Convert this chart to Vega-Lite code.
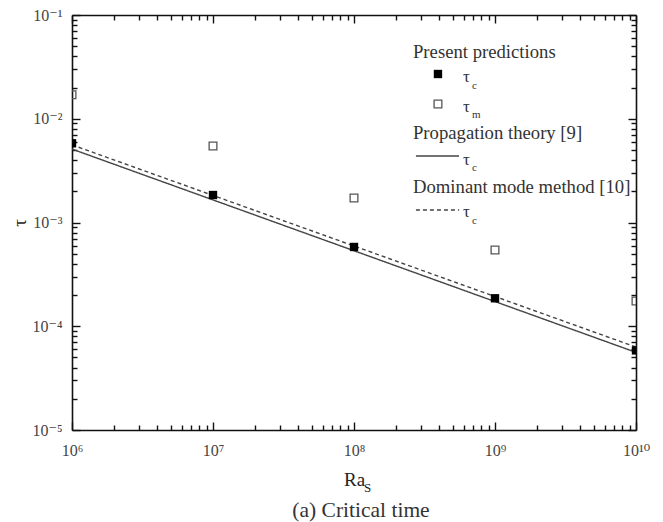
{
  "$schema": "https://vega.github.io/schema/vega-lite/v6.json",
  "width": 564,
  "height": 415,
  "autosize": "none",
  "padding": {"left": 72, "top": 15, "right": 27, "bottom": 92},
  "background": "white",
  "config": {
    "font": "'Liberation Serif', 'DejaVu Serif', serif",
    "view": {"stroke": null},
    "text": {"font": "'Liberation Serif', 'DejaVu Serif', serif"},
    "axis": {
      "grid": false,
      "domainColor": "#111",
      "domainWidth": 1.6,
      "tickColor": "#111",
      "tickWidth": 1.4,
      "labelFont": "'Liberation Serif', 'DejaVu Serif', serif",
      "labelFontSize": 16,
      "labelColor": "#444",
      "titleFont": "'Liberation Serif', 'DejaVu Serif', serif",
      "titleFontWeight": "normal",
      "titleColor": "#222",
      "titleFontSize": 19
    }
  },
  "title": {
    "text": "(a) Critical time",
    "orient": "bottom",
    "anchor": "middle",
    "font": "'Liberation Serif', 'DejaVu Serif', serif",
    "fontSize": 21.5,
    "fontWeight": "normal",
    "color": "#333",
    "offset": 5,
    "dx": 7
  },
  "datasets": {
    "pts": [
      {"Ra": 1e6, "tau": 0.0058, "series": "tau_c"},
      {"Ra": 1e7, "tau": 0.00184, "series": "tau_c"},
      {"Ra": 1e8, "tau": 0.000581, "series": "tau_c"},
      {"Ra": 1e9, "tau": 0.000186, "series": "tau_c"},
      {"Ra": 1e10, "tau": 0.0000585, "series": "tau_c"},
      {"Ra": 1e6, "tau": 0.017, "series": "tau_m"},
      {"Ra": 1e7, "tau": 0.00546, "series": "tau_m"},
      {"Ra": 1e8, "tau": 0.00172, "series": "tau_m"},
      {"Ra": 1e9, "tau": 0.000543, "series": "tau_m"},
      {"Ra": 1e10, "tau": 0.000175, "series": "tau_m"}
    ],
    "lines": [
      {"Ra": 1e6, "tau": 0.0051, "model": "Propagation theory [9]"},
      {"Ra": 1e10, "tau": 0.000056, "model": "Propagation theory [9]"},
      {"Ra": 1e6, "tau": 0.0056, "model": "Dominant mode method [10]"},
      {"Ra": 1e10, "tau": 0.000063, "model": "Dominant mode method [10]"}
    ],
    "legHead": [
      {"Ra": 2.62e8, "tau": 0.044, "label": "Present predictions"},
      {"Ra": 2.62e8, "tau": 0.00729, "label": "Propagation theory [9]"},
      {"Ra": 2.62e8, "tau": 0.0022, "label": "Dominant mode method [10]"}
    ],
    "legTau": [
      {"Ra": 5.93e8, "tau": 0.0252, "label": "τ"},
      {"Ra": 5.93e8, "tau": 0.01298, "label": "τ"},
      {"Ra": 5.93e8, "tau": 0.004, "label": "τ"},
      {"Ra": 5.93e8, "tau": 0.001263, "label": "τ"}
    ],
    "legSub": [
      {"Ra": 6.87e8, "tau": 0.0207, "label": "c"},
      {"Ra": 6.87e8, "tau": 0.01087, "label": "m"},
      {"Ra": 6.87e8, "tau": 0.00335, "label": "c"},
      {"Ra": 6.87e8, "tau": 0.001034, "label": "c"}
    ],
    "legPts": [
      {"Ra": 3.94e8, "tau": 0.027, "series": "tau_c"},
      {"Ra": 3.94e8, "tau": 0.0139, "series": "tau_m"}
    ],
    "legLines": [
      {"Ra": 2.75e8, "Ra2": 5.56e8, "tau": 0.00438, "model": "Propagation theory [9]"},
      {"Ra": 2.75e8, "Ra2": 5.56e8, "tau": 0.00132, "model": "Dominant mode method [10]"}
    ]
  },
  "layer": [
    {
      "data": {"name": "lines"},
      "mark": {"type": "line", "color": "#444", "strokeWidth": 1.4},
      "encoding": {
        "x": {
          "field": "Ra", "type": "quantitative",
          "scale": {"type": "log", "domain": [1e6, 1e10], "nice": false},
          "axis": {
            "orient": "bottom",
            "values": [1e6, 1e7, 1e8, 1e9, 1e10],
            "tickSize": -8,
            "labelPadding": 20,
            "labelFlush": false,
            "labelExpr": "'10' + (round(log(datum.value)/LN10) < 0 ? '⁻' : '') + ['⁰','¹','²','³','⁴','⁵','⁶','⁷','⁸','⁹','¹⁰'][abs(round(log(datum.value)/LN10))]",
            "title": "Ra",
            "titlePadding": 12
          }
        },
        "y": {
          "field": "tau", "type": "quantitative",
          "scale": {"type": "log", "domain": [1e-5, 1e-1], "nice": false},
          "axis": {
            "orient": "left",
            "values": [1e-5, 1e-4, 1e-3, 1e-2, 1e-1],
            "tickSize": -8,
            "labelPadding": 18,
            "labelFlush": false,
            "labelExpr": "'10' + (round(log(datum.value)/LN10) < 0 ? '⁻' : '') + ['⁰','¹','²','³','⁴','⁵','⁶','⁷','⁸','⁹','¹⁰'][abs(round(log(datum.value)/LN10))]",
            "title": "τ",
            "titlePadding": 2
          }
        },
        "detail": {"field": "model"},
        "strokeDash": {
          "field": "model", "type": "nominal",
          "scale": {"domain": ["Propagation theory [9]", "Dominant mode method [10]"], "range": [[1, 0], [4, 3]]},
          "legend": null
        }
      }
    },
    {
      "data": {"name": "pts"},
      "transform": [{"filter": "datum.series == 'tau_c'"}],
      "mark": {"type": "square", "color": "black", "size": 70, "opacity": 1, "clip": true},
      "encoding": {
        "x": {
          "field": "Ra", "type": "quantitative",
          "scale": {"type": "log", "domain": [1e6, 1e10], "nice": false},
          "axis": {
            "orient": "bottom",
            "values": [2e6,3e6,4e6,5e6,6e6,7e6,8e6,9e6,2e7,3e7,4e7,5e7,6e7,7e7,8e7,9e7,2e8,3e8,4e8,5e8,6e8,7e8,8e8,9e8,2e9,3e9,4e9,5e9,6e9,7e9,8e9,9e9],
            "tickSize": -5,
            "labels": false,
            "domain": false,
            "title": null
          }
        },
        "y": {
          "field": "tau", "type": "quantitative",
          "scale": {"type": "log", "domain": [1e-5, 1e-1], "nice": false},
          "axis": {
            "orient": "left",
            "values": [2e-5,3e-5,4e-5,5e-5,6e-5,7e-5,8e-5,9e-5,2e-4,3e-4,4e-4,5e-4,6e-4,7e-4,8e-4,9e-4,2e-3,3e-3,4e-3,5e-3,6e-3,7e-3,8e-3,9e-3,2e-2,3e-2,4e-2,5e-2,6e-2,7e-2,8e-2,9e-2],
            "tickSize": -5,
            "labels": false,
            "domain": false,
            "title": null
          }
        }
      }
    },
    {
      "data": {"name": "pts"},
      "transform": [{"filter": "datum.series == 'tau_m'"}],
      "mark": {"type": "point", "shape": "square", "filled": false, "stroke": "#555", "strokeWidth": 1.3, "size": 60, "opacity": 1, "clip": true},
      "encoding": {
        "x": {
          "field": "Ra", "type": "quantitative",
          "scale": {"type": "log", "domain": [1e6, 1e10], "nice": false},
          "axis": {
            "orient": "top",
            "values": [1e6, 1e7, 1e8, 1e9, 1e10],
            "tickSize": -8,
            "labels": false,
            "title": null
          }
        },
        "y": {
          "field": "tau", "type": "quantitative",
          "scale": {"type": "log", "domain": [1e-5, 1e-1], "nice": false},
          "axis": {
            "orient": "right",
            "values": [1e-5, 1e-4, 1e-3, 1e-2, 1e-1],
            "tickSize": -8,
            "labels": false,
            "title": null
          }
        }
      }
    },
    {
      "data": {"name": "legHead"},
      "mark": {"type": "text", "align": "left", "baseline": "middle", "fontSize": 18.7, "color": "#333"},
      "encoding": {
        "x": {
          "field": "Ra", "type": "quantitative",
          "scale": {"type": "log", "domain": [1e6, 1e10], "nice": false},
          "axis": {
            "orient": "top",
            "values": [2e6,3e6,4e6,5e6,6e6,7e6,8e6,9e6,2e7,3e7,4e7,5e7,6e7,7e7,8e7,9e7,2e8,3e8,4e8,5e8,6e8,7e8,8e8,9e8,2e9,3e9,4e9,5e9,6e9,7e9,8e9,9e9],
            "tickSize": -5,
            "labels": false,
            "domain": false,
            "title": null
          }
        },
        "y": {
          "field": "tau", "type": "quantitative",
          "scale": {"type": "log", "domain": [1e-5, 1e-1], "nice": false},
          "axis": {
            "orient": "right",
            "values": [2e-5,3e-5,4e-5,5e-5,6e-5,7e-5,8e-5,9e-5,2e-4,3e-4,4e-4,5e-4,6e-4,7e-4,8e-4,9e-4,2e-3,3e-3,4e-3,5e-3,6e-3,7e-3,8e-3,9e-3,2e-2,3e-2,4e-2,5e-2,6e-2,7e-2,8e-2,9e-2],
            "tickSize": -5,
            "labels": false,
            "domain": false,
            "title": null
          }
        },
        "text": {"field": "label"}
      }
    },
    {
      "data": {"name": "legTau"},
      "mark": {"type": "text", "align": "left", "baseline": "middle", "fontSize": 17, "color": "#333"},
      "encoding": {
        "x": {"field": "Ra", "type": "quantitative", "axis": null},
        "y": {"field": "tau", "type": "quantitative", "axis": null},
        "text": {"field": "label"}
      }
    },
    {
      "data": {"name": "legSub"},
      "mark": {"type": "text", "align": "left", "baseline": "middle", "fontSize": 11, "color": "#333"},
      "encoding": {
        "x": {"field": "Ra", "type": "quantitative", "axis": null},
        "y": {"field": "tau", "type": "quantitative", "axis": null},
        "text": {"field": "label"}
      }
    },
    {
      "data": {"name": "legPts"},
      "transform": [{"filter": "datum.series == 'tau_c'"}],
      "mark": {"type": "square", "color": "black", "size": 70, "opacity": 1},
      "encoding": {
        "x": {"field": "Ra", "type": "quantitative", "axis": null},
        "y": {"field": "tau", "type": "quantitative", "axis": null}
      }
    },
    {
      "data": {"name": "legPts"},
      "transform": [{"filter": "datum.series == 'tau_m'"}],
      "mark": {"type": "point", "shape": "square", "filled": false, "stroke": "#555", "strokeWidth": 1.3, "size": 60, "opacity": 1},
      "encoding": {
        "x": {"field": "Ra", "type": "quantitative", "axis": null},
        "y": {"field": "tau", "type": "quantitative", "axis": null}
      }
    },
    {
      "data": {"name": "legLines"},
      "mark": {"type": "rule", "color": "#444", "strokeWidth": 1.4},
      "encoding": {
        "x": {"field": "Ra", "type": "quantitative", "axis": null},
        "x2": {"field": "Ra2"},
        "y": {"field": "tau", "type": "quantitative", "axis": null},
        "strokeDash": {
          "field": "model", "type": "nominal",
          "scale": {"domain": ["Propagation theory [9]", "Dominant mode method [10]"], "range": [[1, 0], [4, 3]]},
          "legend": null
        }
      }
    },
    {
      "data": {"values": [{"Ra": 1e8, "tau": 1e-5, "label": "S"}]},
      "mark": {"type": "text", "align": "left", "baseline": "middle", "fontSize": 13, "color": "#222", "dx": 10, "dy": 58, "clip": false},
      "encoding": {
        "x": {"field": "Ra", "type": "quantitative", "axis": null},
        "y": {"field": "tau", "type": "quantitative", "axis": null},
        "text": {"field": "label"}
      }
    }
  ],
  "resolve": {"axis": {"x": "independent", "y": "independent"}}
}
